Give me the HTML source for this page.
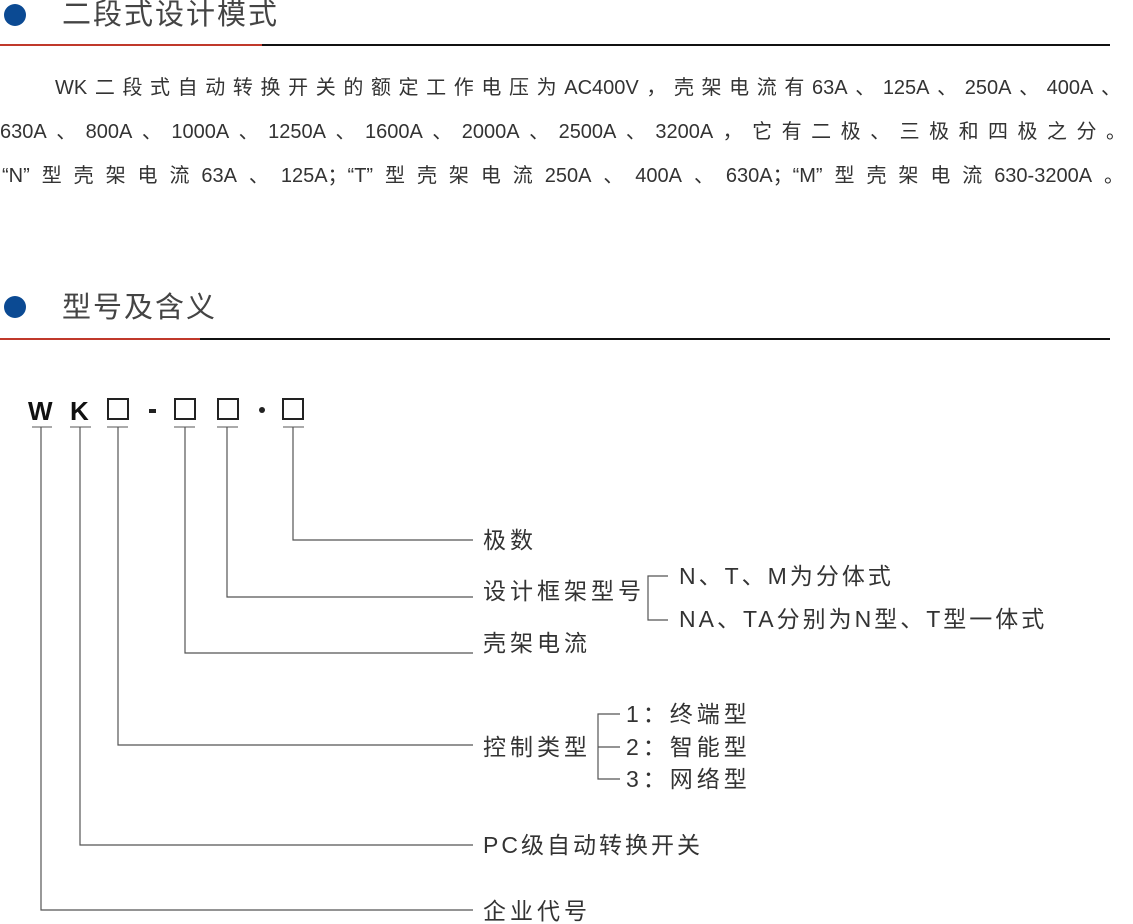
<!DOCTYPE html>
<html><head><meta charset="utf-8"><style>
body{margin:0;width:1133px;height:923px;background:#fff;position:relative;overflow:hidden;font-family:"Liberation Sans","Noto Sans CJK SC",sans-serif;color:#333}
.a{position:absolute;white-space:nowrap}
.dot{position:absolute;width:22px;height:22px;border-radius:50%;background:#0b4a93}
.h{position:absolute;font-size:29px;color:#444;letter-spacing:2px;line-height:32px}
.p{position:absolute;font-size:20px;line-height:24px;text-align:justify;text-align-last:justify;white-space:nowrap;color:#333}
.l{position:absolute;font-size:23px;line-height:26px;color:#333;letter-spacing:4px;white-space:nowrap}
</style></head><body>
<div class="dot" style="left:4px;top:4px"></div>
<div class="h" style="left:62px;top:-1px">二段式设计模式</div>
<div class="a" style="left:0;top:44px;width:262px;height:2px;background:#c0392b"></div>
<div class="a" style="left:262px;top:44px;width:848px;height:2px;background:#111"></div>
<div class="p" style="left:55px;top:76px;width:1066px">WK二段式自动转换开关的额定工作电压为AC400V，壳架电流有63A、125A、250A、400A、</div>
<div class="p" style="left:0;top:120px;width:1126px">630A、800A、1000A、1250A、1600A、2000A、2500A、3200A，它有二极、三极和四极之分。</div>
<div class="p" style="left:2px;top:164px;width:1122px">“N”型壳架电流63A、125A；“T”型壳架电流250A、400A、630A；“M”型壳架电流630-3200A。</div>

<div class="dot" style="left:4px;top:296px"></div>
<div class="h" style="left:62px;top:292px">型号及含义</div>
<div class="a" style="left:0;top:338px;width:200px;height:2px;background:#c0392b"></div>
<div class="a" style="left:200px;top:338px;width:910px;height:2px;background:#111"></div>

<div class="a" style="left:28px;top:396px;font-size:26px;font-weight:bold;color:#111;line-height:30px">W</div>
<div class="a" style="left:70px;top:396px;font-size:26px;font-weight:bold;color:#111;line-height:30px">K</div>
<svg class="a" style="left:0;top:0" width="1133" height="923">
<g fill="none" stroke="#222" stroke-width="2">
<rect x="108" y="399" width="20" height="20"/>
<rect x="175" y="399" width="20" height="20"/>
<rect x="218" y="399" width="20" height="20"/>
<rect x="283" y="399" width="20" height="20"/>
</g>
<rect x="149" y="409" width="7" height="4" fill="#222"/>
<circle cx="262" cy="410" r="3" fill="#222"/>
<g stroke="#777" stroke-width="1.3" fill="none">
<path d="M32 427H52M70 427H91M107 427H128M174 427H195M217 427H238M283 427H304"/>
</g>
<g stroke="#555" stroke-width="1.2" fill="none">
<path d="M41 427V910H473"/>
<path d="M80 427V845H473"/>
<path d="M118 427V745H473"/>
<path d="M185 427V653H473"/>
<path d="M227 427V597H473"/>
<path d="M293 427V540H473"/>
<path d="M668 576H648V620H668"/>
<path d="M620 714H598V779H620M598 747H620"/>
</g>
</svg>
<div class="l" style="left:483px;top:527px">极数</div>
<div class="l" style="left:483px;top:578px">设计框架型号</div>
<div class="l" style="left:483px;top:630px">壳架电流</div>
<div class="l" style="left:483px;top:734px">控制类型</div>
<div class="l" style="left:483px;top:832px;letter-spacing:3px">PC级自动转换开关</div>
<div class="l" style="left:483px;top:898px">企业代号</div>
<div class="l" style="left:679px;top:563px;letter-spacing:3px">N、T、M为分体式</div>
<div class="l" style="left:679px;top:606px;letter-spacing:3px">NA、TA分别为N型、T型一体式</div>
<div class="l" style="left:626px;top:701px">1：终端型</div>
<div class="l" style="left:626px;top:734px">2：智能型</div>
<div class="l" style="left:626px;top:766px">3：网络型</div>
</body></html>
